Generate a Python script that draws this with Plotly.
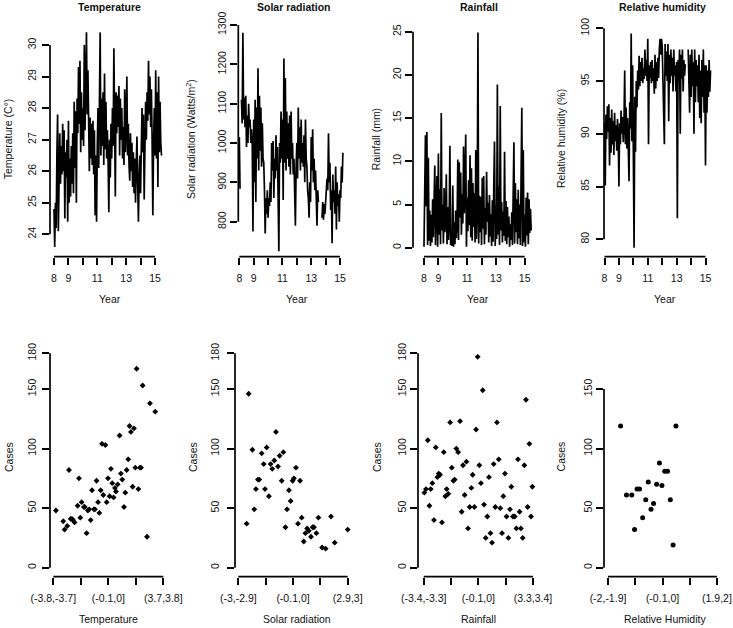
import numpy as np
import plotly.graph_objects as go

W, H = 733, 628

# ---------------- time series (start 8.0, step 0.05 yr) ----------------
series_start = 8.0
series_step = 0.05

temperature = [
    24.8, 23.6, 25.0, 24.2, 26.5, 27.8, 24.1, 26.3, 27.2, 25.6,
    26.8, 25.9, 27.5, 26.0, 27.3, 24.5, 26.6, 25.8, 27.0, 24.4,
    27.6, 25.0, 26.4, 25.2, 26.8, 25.6, 27.2, 25.3, 28.2, 26.1,
    27.9, 25.0, 28.3, 27.2, 29.3, 27.5, 29.5, 26.6, 28.5, 27.0,
    28.0, 26.8, 30.0, 27.3, 29.2, 30.4, 27.8, 29.2, 27.6, 26.0,
    27.7, 26.4, 27.5, 26.2, 27.6, 25.9, 27.3, 24.6, 26.5, 24.4,
    26.8, 28.0, 26.1, 27.6, 30.4, 26.5, 28.3, 26.8, 28.5, 26.2,
    29.1, 26.7, 28.2, 26.4, 27.3, 26.3, 24.7, 27.0, 25.8, 27.5,
    26.4, 28.0, 26.8, 29.9, 26.6, 25.2, 28.5, 27.2, 28.4, 27.4,
    28.7, 26.5, 28.3, 27.0, 28.0, 26.4, 27.4, 26.2, 28.6, 26.6,
    27.4, 29.0, 26.5, 27.5, 26.2, 25.7, 27.2, 26.0, 26.9, 25.5,
    26.6, 25.3, 26.4, 25.0, 26.2, 27.1, 25.6, 24.4, 25.8, 26.5,
    25.3, 26.8, 28.0, 26.6, 27.8, 25.1, 27.5, 28.2, 27.0, 28.5,
    27.6, 29.5, 27.8, 29.0, 27.4, 28.6, 27.0, 24.6, 26.8, 28.0,
    26.5, 29.2, 26.4, 28.5, 25.5, 29.0, 26.6, 28.2, 26.9, 26.5,
]

solar_radiation = [
    1015, 884, None, 1110, 1050, 1280, 1060, 1115, 1040, 1120,
    990, 1070, 1000, 1100, 1040, 1060, 1000, 1035, 995, 775,
    1060, 900, 1110, 850, 1090, 960, 1190, 930, 1120, 980,
    1090, 940, 1050, 960, 950, 880, 770, 860, 820, 880,
    810, 860, 840, 900, 850, 1000, 930, 1005, 860, 960,
    910, 1020, 930, 990, 900, 725, 1000, 950, 1080, 960,
    1060, 855, 1215, 950, 1165, 930, 1080, 960, 1050, 940,
    1070, 920, 1080, 960, 1000, 920, 960, 880, 790, 940,
    1000, 910, 1090, 960, 1040, 930, 1060, 950, 1000, 940,
    1020, 900, 1060, 960, 940, 880, 860, 810, 900, 850,
    1015, 930, 1035, 900, 960, 880, 930, 860, 790, 880,
    850, None, None, None, None, 810, 850, 805, 845, 820,
    860, 870, 910, 880, 1025, 900, 950, 830, 880, 745,
    920, 850, 880, 820, 940, 780, 900, 840, 870, 800,
    880, 860, 940, 900, 975,
]

rainfall = [
    0.1, 5.5, 13.0, 4.8, 13.4, 0.3, 10.4, 0.8, 4.3, 0.2,
    3.8, 0.6, 5.6, 1.2, 4.0, 9.5, 0.3, 5.2, 8.3, 0.1,
    10.9, 1.5, 6.8, 0.4, 15.6, 2.0, 5.0, 0.5, 6.9, 1.8,
    3.2, 8.5, 0.4, 4.7, 0.9, 2.8, 11.8, 0.3, 1.6, 0.2,
    7.2, 0.1, 2.9, 0.4, 4.3, 1.1, 3.1, 10.2, 0.9, 9.9,
    3.5, 8.7, 1.5, 6.2, 2.8, 11.7, 4.0, 7.5, 13.1, 0.1,
    5.8, 1.9, 7.8, 2.6, 10.7, 1.2, 9.2, 0.8, 7.5, 2.4,
    6.3, 0.6, 11.3, 1.0, 4.9, 24.9, 0.5, 6.0, 1.8, 5.9,
    0.3, 8.1, 2.2, 8.3, 0.4, 4.6, 1.5, 8.8, 3.0, 5.2,
    0.6, 6.1, 1.3, 3.9, 0.2, 5.5, 0.7, 7.0, 12.3, 0.2,
    4.9, 1.0, 18.9, 1.5, 7.1, 0.3, 16.4, 2.0, 5.3, 0.6,
    4.2, 1.4, 11.1, 0.8, 5.4, 0.4, 4.7, 1.2, 3.6, 0.1,
    2.7, 0.9, 4.1, 0.3, 5.8, 12.2, 0.5, 7.5, 1.8, 5.6,
    0.4, 6.7, 1.1, 5.0, 0.3, 6.6, 16.2, 0.2, 11.3, 0.6,
    3.8, 0.1, 5.8, 1.4, 6.4, 0.4, 5.6, 1.7, 4.5, 2.0,
]

relative_humidity = [
    91.0, 85.1, 91.8, 89.5, 92.6, 90.2, 92.8, 87.0, 91.5, 88.2,
    92.3, 89.0, 91.2, 88.0, 92.0, 89.3, 90.8, 88.4, 91.4, 89.6,
    85.0, 91.0, 89.0, 92.2, 90.0, 91.6, 89.2, 91.0, 96.0, 89.0,
    92.5, 88.6, 91.5, 89.5, 85.5, 93.0, 90.5, 99.5, 89.3, 96.5,
    90.0, 79.2, 93.5, 88.3, 95.0, 92.5, 96.0, 94.2, 97.4, 94.5,
    96.8, 95.0, 97.2, 94.8, 96.2, 95.2, 98.0, 95.5, 97.0, 95.0,
    99.0, 89.0, 96.5, 95.3, 96.8, 94.8, 97.0, 95.0, 96.2, 93.8,
    97.5, 94.3, 96.8, 95.0, 97.2, 95.3, 98.0, 99.0, 97.5, 99.0,
    98.3, 95.0, 92.2, 89.0, 98.5, 95.5, 97.8, 95.0, 98.5, 91.2,
    97.5, 94.8, 98.0, 95.5, 97.2, 94.0, 98.0, 95.5, 96.5, 94.0,
    96.8, 82.0, 97.0, 95.0, 98.0, 90.0, 97.5, 95.2, 98.0, 94.0,
    97.0, 95.5, 96.6, None, None, None, 98.0, 96.0, 92.0, 97.5,
    93.5, 98.0, 94.5, 96.8, 90.0, 98.0, 93.0, 97.0, 94.5, 96.5,
    93.0, 97.5, 91.5, 96.0, 91.0, 97.0, 93.5, 98.0, 92.0, 96.5,
    87.0, 96.5, 92.0, 96.0, 93.5, 97.0, 94.0, 96.0,
]

year_ticks = [8, 9, 10, 11, 12, 13, 14, 15]
year_label_vals = [8, 9, 11, 13, 15]
year_labels = ["8", "9", "11", "13", "15"]

# ---------------- binned anomalies vs cases ----------------
temp_bins = [-3.57, -3.07, -2.98, -2.80, -2.68, -2.57, -2.48, -2.41, -2.30, -2.09,
             -2.00, -1.91, -1.82, -1.66, -1.61, -1.48, -1.39, -1.30, -1.20, -1.11,
             -0.98, -0.91, -0.80, -0.70, -0.61, -0.52, -0.43, -0.34, -0.20, -0.11,
             -0.02, 0.09, 0.18, 0.27, 0.36, 0.45, 0.52, 0.64, 0.77, 0.86,
             0.95, 1.07, 1.16, 1.25, 1.36, 1.45, 1.54, 1.66, 1.75, 1.84,
             1.93, 2.05, 2.16, 2.23, 2.34, 2.64, 2.84, 3.20]
temp_cases = [48, 39, 32, 35, 82, 41, 41, 40, 38, 52,
              75, 42, 55, 51, 51, 29, 48, 49, 40, 65,
              49, 49, 73, 55, 46, 65, 104, 61, 103, 55,
              75, 60, 83, 71, 59, 67, 64, 70, 111, 79,
              74, 51, 63, 82, 91, 119, 114, 68, 117, 84,
              167, 66, 84, 84, 153, 26, 138, 131]

solar_bins = [-2.50, -2.39, -2.19, -2.09, -2.00, -1.89, -1.82, -1.69, -1.58, -1.51,
              -1.42, -1.30, -1.21, -1.12, -1.01, -0.92, -0.81, -0.72, -0.61, -0.52,
              -0.41, -0.32, -0.22, -0.13, -0.02, 0.05, 0.16, 0.27, 0.38, 0.47,
              0.58, 0.67, 0.76, 0.85, 0.97, 1.06, 1.13, 1.26, 1.37, 1.57,
              1.76, 2.05, 2.25, 2.95]
solar_cases = [37, 146, 99, 49, 66, 74, 74, 96, 87, 66,
               101, 60, 87, 83, 90, 114, 85, 94, 73, 97,
               34, 49, 65, 56, 73, 75, 84, 37, 73, 42,
               22, 29, 33, 31, 26, 34, 34, 29, 42, 17,
               16, 43, 21, 32]

rain_bins = [-3.31, -3.21, -3.10, -3.00, -2.92, -2.82, -2.72, -2.61, -2.51, -2.43,
             -2.35, -2.23, -2.12, -2.02, -1.94, -1.84, -1.73, -1.63, -1.53, -1.45,
             -1.35, -1.24, -1.12, -1.02, -0.94, -0.84, -0.73, -0.63, -0.53, -0.43,
             -0.35, -0.24, -0.14, -0.04, 0.06, 0.16, 0.27, 0.35, 0.45, 0.55,
             0.65, 0.74, 0.84, 0.94, 1.04, 1.14, 1.25, 1.35, 1.45, 1.53,
             1.63, 1.73, 1.84, 1.94, 2.02, 2.12, 2.23, 2.33, 2.43, 2.53,
             2.61, 2.72, 2.82, 2.92, 3.02, 3.13, 3.23, 3.31]
rain_cases = [63, 66, 107, 52, 66, 71, 40, 101, 76, 79,
              78, 38, 97, 60, 66, 62, 122, 84, 73, 74,
              100, 97, 123, 47, 86, 61, 89, 33, 51, 67,
              78, 51, 116, 177, 86, 71, 149, 53, 25, 43,
              76, 29, 21, 87, 51, 122, 91, 50, 29, 60,
              79, 43, 25, 49, 68, 43, 43, 33, 91, 47,
              33, 25, 86, 141, 51, 104, 43, 68]

hum_bins = [-1.50, -1.29, -1.10, -1.00, -0.91, -0.82, -0.71, -0.60, -0.51, -0.41,
            -0.32, -0.21, -0.11, -0.02, 0.08, 0.18, 0.28, 0.38, 0.48]
hum_cases = [119, 61, 61, 32, 66, 66, 42, 57, 72, 49,
             54, 70, 88, 69, 81, 81, 57, 19, 119]

temp_bin_labels = ["(-3.8,-3.7]", "(-0.1,0]", "(3.7,3.8]"]
solar_bin_labels = ["(-3,-2.9]", "(-0.1,0]", "(2.9,3]"]
rain_bin_labels = ["(-3.4,-3.3]", "(-0.1,0]", "(3.3,3.4]"]
hum_bin_labels = ["(-2,-1.9]", "(-0.1,0]", "(1.9,2]"]
temp_bin_ends = [-3.75, 3.75]
solar_bin_ends = [-2.95, 2.95]
rain_bin_ends = [-3.35, 3.35]
hum_bin_ends = [-1.95, 1.95]

FONT = "Liberation Sans"
TXT = "#111111"
FS = 10.5
AXW = 1.7


def lin(v1, p1, v2, p2, p):
    return v1 + (p - p1) * (v2 - v1) / (p2 - p1)


fig = go.Figure()
shapes = []
annotations = []

panels = [
    dict(kind="line", xmap=(8, 54, 15, 155), xdom=(50, 166), ymap=(30, 45, 24, 234.3), ydom=(22, 256.7),
         yt=[24, 25, 26, 27, 28, 29, 30], stand=2),
    dict(kind="line", xmap=(8, 239.3, 15, 340), xdom=(238.3, 346), ymap=(1300, 25, 800, 221.7), ydom=(14, 256.7),
         yt=[800, 900, 1000, 1100, 1200, 1300], stand=0),
    dict(kind="line", xmap=(8, 424, 15, 524.7), xdom=(413, 535), ymap=(25, 31.7, 0, 247.7), ydom=(22, 256.7),
         yt=[0, 5, 10, 15, 20, 25], stand=0),
    dict(kind="line", xmap=(8, 604.5, 15, 705.5), xdom=(604, 713), ymap=(100, 28.3, 80, 239.3), ydom=(18, 256.7),
         yt=[80, 85, 90, 95, 100], stand=3),
    dict(kind="pts", xmap=(-3.75, 53.3, 3.75, 163.3), xdom=(50, 167), ymap=(180, 353.3, 0, 567.7), ydom=(345, 576.7),
         yt=[0, 50, 100, 150, 180], stand=2),
    dict(kind="pts", xmap=(-2.95, 238.3, 2.95, 347.7), xdom=(235, 351), ymap=(180, 353.3, 0, 567.7), ydom=(345, 576.7),
         yt=[0, 50, 100, 150, 180], stand=4),
    dict(kind="pts", xmap=(-3.35, 423.7, 3.35, 533), xdom=(418, 538), ymap=(180, 353.3, 0, 567.7), ydom=(345, 576.7),
         yt=[0, 50, 100, 150, 180], stand=0),
    dict(kind="pts", xmap=(-1.95, 608, 1.95, 717), xdom=(604, 721), ymap=(180, 353.3, 0, 567.7), ydom=(345, 576.7),
         yt=[0, 50, 100, 150], stand=0),
]

line_data = [temperature, solar_radiation, rainfall, relative_humidity]
pts_data = [(temp_bins, temp_cases, temp_bin_ends, temp_bin_labels, "diamond"),
            (solar_bins, solar_cases, solar_bin_ends, solar_bin_labels, "diamond"),
            (rain_bins, rain_cases, rain_bin_ends, rain_bin_labels, "diamond"),
            (hum_bins, hum_cases, hum_bin_ends, hum_bin_labels, "circle")]

layout_axes = {}
for i, p in enumerate(panels):
    n = i + 1
    xs = "" if n == 1 else str(n)
    xm, ym = p["xmap"], p["ymap"]
    xr = [lin(xm[0], xm[1], xm[2], xm[3], p["xdom"][0]), lin(xm[0], xm[1], xm[2], xm[3], p["xdom"][1])]
    yr = [lin(ym[0], ym[1], ym[2], ym[3], p["ydom"][1]), lin(ym[0], ym[1], ym[2], ym[3], p["ydom"][0])]
    xdom = [p["xdom"][0] / W, p["xdom"][1] / W]
    ydom = [1 - p["ydom"][1] / H, 1 - p["ydom"][0] / H]

    if p["kind"] == "line":
        vals = line_data[i]
        yrs = series_start + series_step * np.arange(len(vals))
        fig.add_trace(go.Scatter(x=yrs, y=vals, mode="lines", line=dict(color="black", width=1.7),
                                 connectgaps=False, xaxis="x" + xs, yaxis="y" + xs, hoverinfo="skip"))
        all_t = year_ticks
        lab_v, lab_t = year_label_vals, year_labels
    else:
        bx, by, ends, labs, sym = pts_data[i - 4]
        fig.add_trace(go.Scatter(x=bx, y=by, mode="markers",
                                 marker=dict(symbol=sym, size=4.5 if sym == "diamond" else 5, color="black"),
                                 xaxis="x" + xs, yaxis="y" + xs, hoverinfo="skip"))
        all_t = list(np.linspace(ends[0], ends[1], 5))
        lab_v = [all_t[0], all_t[2], all_t[4]]
        lab_t = labs

    common = dict(showgrid=False, zeroline=False, showline=False, automargin=False,
                  ticks="outside", ticklen=7,
                  tickwidth=AXW, tickcolor="black", tickfont=dict(family=FONT, size=FS, color=TXT))
    layout_axes["xaxis" + xs] = dict(domain=xdom, range=xr, anchor="y" + xs, tickmode="array",
                                     tickvals=lab_v, ticktext=lab_t, ticklabelstandoff=5,
                                     minor=dict(tickmode="array", tickvals=all_t, ticks="outside",
                                                ticklen=7, tickwidth=AXW, tickcolor="black",
                                                showgrid=False),
                                     **common)
    layout_axes["yaxis" + xs] = dict(domain=ydom, range=yr, anchor="x" + xs, tickmode="array",
                                     tickvals=p["yt"], ticktext=[str(v) for v in p["yt"]],
                                     tickangle=-90, ticklabelstandoff=p["stand"], **common)

    shapes.append(dict(type="line", xref="x" + xs, yref="paper", x0=all_t[0], x1=all_t[-1],
                       y0=ydom[0], y1=ydom[0], line=dict(color="black", width=AXW)))
    shapes.append(dict(type="line", xref="paper", yref="y" + xs, x0=xdom[0], x1=xdom[0],
                       y0=p["yt"][0], y1=p["yt"][-1], line=dict(color="black", width=AXW)))


def ann(text, px, py, angle=0, bold=False):
    annotations.append(dict(text=("<b>%s</b>" % text) if bold else text, x=px / W, y=1 - py / H,
                            xref="paper", yref="paper", showarrow=False, textangle=angle,
                            xanchor="center", yanchor="middle",
                            font=dict(family=FONT, size=FS, color=TXT)))


titles = ["Temperature", "Solar radiation", "Rainfall", "Relative humidity"]
for t, x in zip(titles, [109, 294, 478.5, 662]):
    ann(t, x, 7, bold=True)

for x in [110, 296.7, 478, 665]:
    ann("Year", x, 299)

top_ylabels = ["Temperature (C°)", "Solar radiation (Watts/m<sup>2</sup>)", "Rainfall (mm)",
               "Relative humidity (%)"]
for t, x in zip(top_ylabels, [8.3, 190, 376.3, 561]):
    ann(t, x, 139, angle=-90)

bottom_xlabels = ["Temperature", "Solar radiation", "Rainfall", "Relative Humidity"]
for t, x in zip(bottom_xlabels, [108.3, 296.7, 478, 664.7]):
    ann(t, x, 619)

for x in [8.3, 192.3, 376.3, 560.7]:
    ann("Cases", x, 456.7, angle=-90)

fig.update_layout(width=W, height=H, margin=dict(l=0, r=0, t=0, b=0, autoexpand=False),
                  paper_bgcolor="white", plot_bgcolor="white", showlegend=False,
                  shapes=shapes, annotations=annotations, **layout_axes)

fig.write_html("out.html", config={"displayModeBar": False},
               post_script="document.body.style.margin='0';")
